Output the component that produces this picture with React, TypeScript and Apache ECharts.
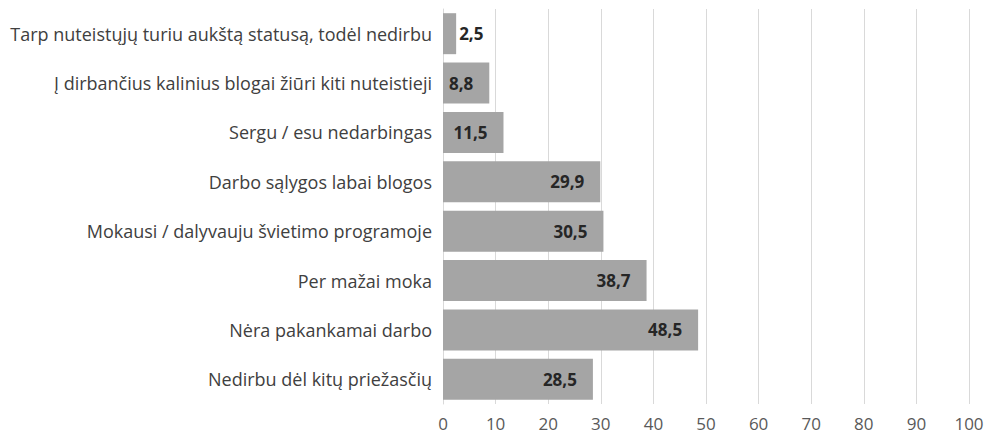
import React, { useEffect, useRef } from "react";
import * as echarts from "echarts";

const categories = [
  "Tarp nuteistųjų turiu aukštą statusą, todėl nedirbu",
  "Į dirbančius kalinius blogai žiūri kiti nuteistieji",
  "Sergu / esu nedarbingas",
  "Darbo sąlygos labai blogos",
  "Mokausi / dalyvauju švietimo programoje",
  "Per mažai moka",
  "Nėra pakankamai darbo",
  "Nedirbu dėl kitų priežasčių",
];
const values = [2.5, 8.8, 11.5, 29.9, 30.5, 38.7, 48.5, 28.5];
const outsideLabelThreshold = 5;

const FONT = "Open Sans";

export default function App() {
  const ref = useRef<HTMLDivElement>(null);
  useEffect(() => {
    document.body.style.margin = "0";
    const chart = echarts.init(ref.current!, null, { renderer: "svg" });
    chart.setOption({
      animation: false,
      grid: { left: 443, right: 19, top: 9, bottom: 34 },
      xAxis: {
        type: "value",
        min: 0,
        max: 100,
        interval: 10,
        axisLine: { show: false },
        axisTick: { show: false },
        splitLine: { show: true, lineStyle: { color: "#d9d9d9", width: 1 } },
        axisLabel: { color: "#595959", fontSize: 17, fontFamily: FONT, margin: 11 },
      },
      yAxis: {
        type: "category",
        inverse: true,
        data: categories,
        axisLine: { show: true, lineStyle: { color: "#d9d9d9" } },
        axisTick: { show: false },
        axisLabel: { color: "#404040", fontSize: 18, fontFamily: FONT, margin: 11 },
      },
      series: [
        {
          type: "bar",
          barCategoryGap: "17%",
          itemStyle: { color: "#a5a5a5" },
          data: values.map((v) => ({
            value: v,
            label: {
              show: true,
              position: v < outsideLabelThreshold ? "right" : "insideRight",
              distance: v < outsideLabelThreshold ? 3 : 16,
              formatter: (p: any) => String(p.value).replace(".", ","),
              color: "#262626",
              fontWeight: "bold",
              fontSize: 17,
              fontFamily: FONT,
            },
          })),
        },
      ],
    });
    return () => chart.dispose();
  }, []);
  return <div ref={ref} style={{ width: 988, height: 438 }} />;
}
